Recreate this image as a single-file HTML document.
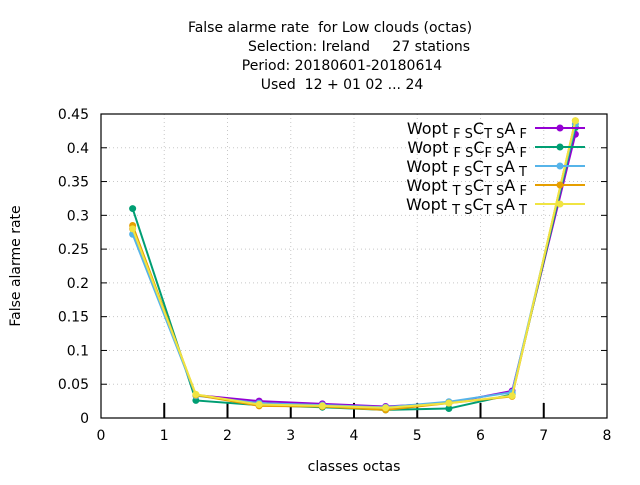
<!DOCTYPE html>
<html><head><meta charset="utf-8"><style>
body{margin:0;background:#fff;}
svg{font-family:"DejaVu Sans","Liberation Sans",sans-serif;}
text{white-space:pre;}
</style></head><body>
<svg id="chart" width="640" height="480" viewBox="0 0 640 480" xmlns="http://www.w3.org/2000/svg" xml:space="preserve">
<rect width="640" height="480" fill="#fff"/>
<g font-size="14" text-anchor="middle" fill="#000">
<text x="330" y="32">False alarme rate  for Low clouds (octas)</text>
<text x="359" y="51">Selection: Ireland     27 stations</text>
<text x="342" y="70">Period: 20180601-20180614</text>
<text x="342" y="89">Used  12 + 01 02 ... 24</text>
</g>
<g id="grid"></g>
<g id="axes"></g>
<g id="series"></g>
<g id="legend"></g>
<text x="354" y="471" font-size="14" text-anchor="middle">classes octas</text>
<text x="0" y="0" font-size="14" text-anchor="middle" transform="translate(20,266) rotate(-90)">False alarme rate</text>
</svg>
<script>
const xCats=[0.5,1.5,2.5,3.5,4.5,5.5,6.5,7.5];
const xTicks=[0,1,2,3,4,5,6,7,8];
const yTicks=[0,0.05,0.1,0.15,0.2,0.25,0.3,0.35,0.4,0.45];
const yTickLabels=["0","0.05","0.1","0.15","0.2","0.25","0.3","0.35","0.4","0.45"];
const names=[["F","S","T","S","F"],["F","S","F","S","F"],["F","S","T","S","T"],["T","S","T","S","F"],["T","S","T","S","T"]];
const colors=["#9400d3","#009e73","#56b4e9","#e69f00","#f0e442"];
const s1=[0.280,0.034,0.025,0.021,0.017,0.022,0.040,0.420];
const s2=[0.310,0.026,0.019,0.016,0.012,0.014,0.035,0.430];
const s3=[0.272,0.033,0.022,0.019,0.016,0.024,0.038,0.435];
const s4=[0.285,0.034,0.018,0.017,0.012,0.022,0.032,0.440];
const s5=[0.280,0.035,0.020,0.018,0.015,0.022,0.033,0.440];
const series=[s1,s2,s3,s4,s5];
const L=101,R=607,T=114,B=418;
const X=v=>L+(v-0)/8*(R-L);
const Y=v=>B-(v/0.45)*(B-T);
const NS="http://www.w3.org/2000/svg";
function mk(tag,attrs,parent){const e=document.createElementNS(NS,tag);for(const k in attrs)e.setAttribute(k,attrs[k]);parent.appendChild(e);return e;}
const grid=document.getElementById('grid'),axes=document.getElementById('axes'),sg=document.getElementById('series'),lg=document.getElementById('legend');
xTicks.forEach(t=>{
  if(t>0&&t<8){const l=mk('line',{x1:X(t),x2:X(t),y1:T,y2:B,stroke:'#c8c8c8','stroke-dasharray':'1,3','stroke-width':1},grid);
  
  
  const k=mk('line',{x1:X(t),x2:X(t),y1:B,y2:B-15,stroke:'#000','stroke-width':2},axes);
  
  }
  const tx=mk('text',{x:X(t),y:B+22,'font-size':14,'text-anchor':'middle'},axes);tx.textContent=t;
  
  
});
yTicks.forEach((t,i)=>{
  if(i>0&&i<yTicks.length-1){const l=mk('line',{x1:L,x2:R,y1:Y(t),y2:Y(t),stroke:'#c8c8c8','stroke-dasharray':'1,3','stroke-width':1},grid);
  
  }
  mk('line',{x1:L,x2:L+6,y1:Y(t),y2:Y(t),stroke:'#000'},axes);
  mk('line',{x1:R,x2:R-6,y1:Y(t),y2:Y(t),stroke:'#000'},axes);
  const tx=mk('text',{x:L-12,y:Y(t)+5,'font-size':14,'text-anchor':'end'},axes);tx.textContent=yTickLabels[i];
  
  
});
const box=mk('rect',{x:L,y:T,width:R-L,height:B-T,fill:'none',stroke:'#000','stroke-width':1.2},axes);


series.forEach((s,i)=>{
  const g=mk('g',{},sg);
  
  
  const pts=s.map((v,j)=>X(xCats[j])+','+Y(v)).join(' ');
  mk('polyline',{points:pts,fill:'none',stroke:colors[i],'stroke-width':2},g);
  s.forEach((v,j)=>{const c=mk('circle',{cx:X(xCats[j]),cy:Y(v),r:3.5,fill:colors[i]},g);
  
  });
  const y=128+i*19;
  const e=mk('g',{},lg);
  
  
  const n=names[i];
  const t=mk('text',{x:527,y:y+6,'font-size':16,'text-anchor':'end'},e);
  t.innerHTML='Wopt <tspan font-size="13" dy="4">'+n[0]+' '+n[1]+'</tspan><tspan dy="-4">C</tspan><tspan font-size="13" dy="4">'+n[2]+' '+n[3]+'</tspan><tspan dy="-4">A</tspan><tspan font-size="13" dy="4"> '+n[4]+'</tspan>';
  mk('line',{x1:535,x2:585,y1:y,y2:y,stroke:colors[i],'stroke-width':2},e);
  mk('circle',{cx:560,cy:y,r:3.5,fill:colors[i]},e);
});
</script>
</body></html>
